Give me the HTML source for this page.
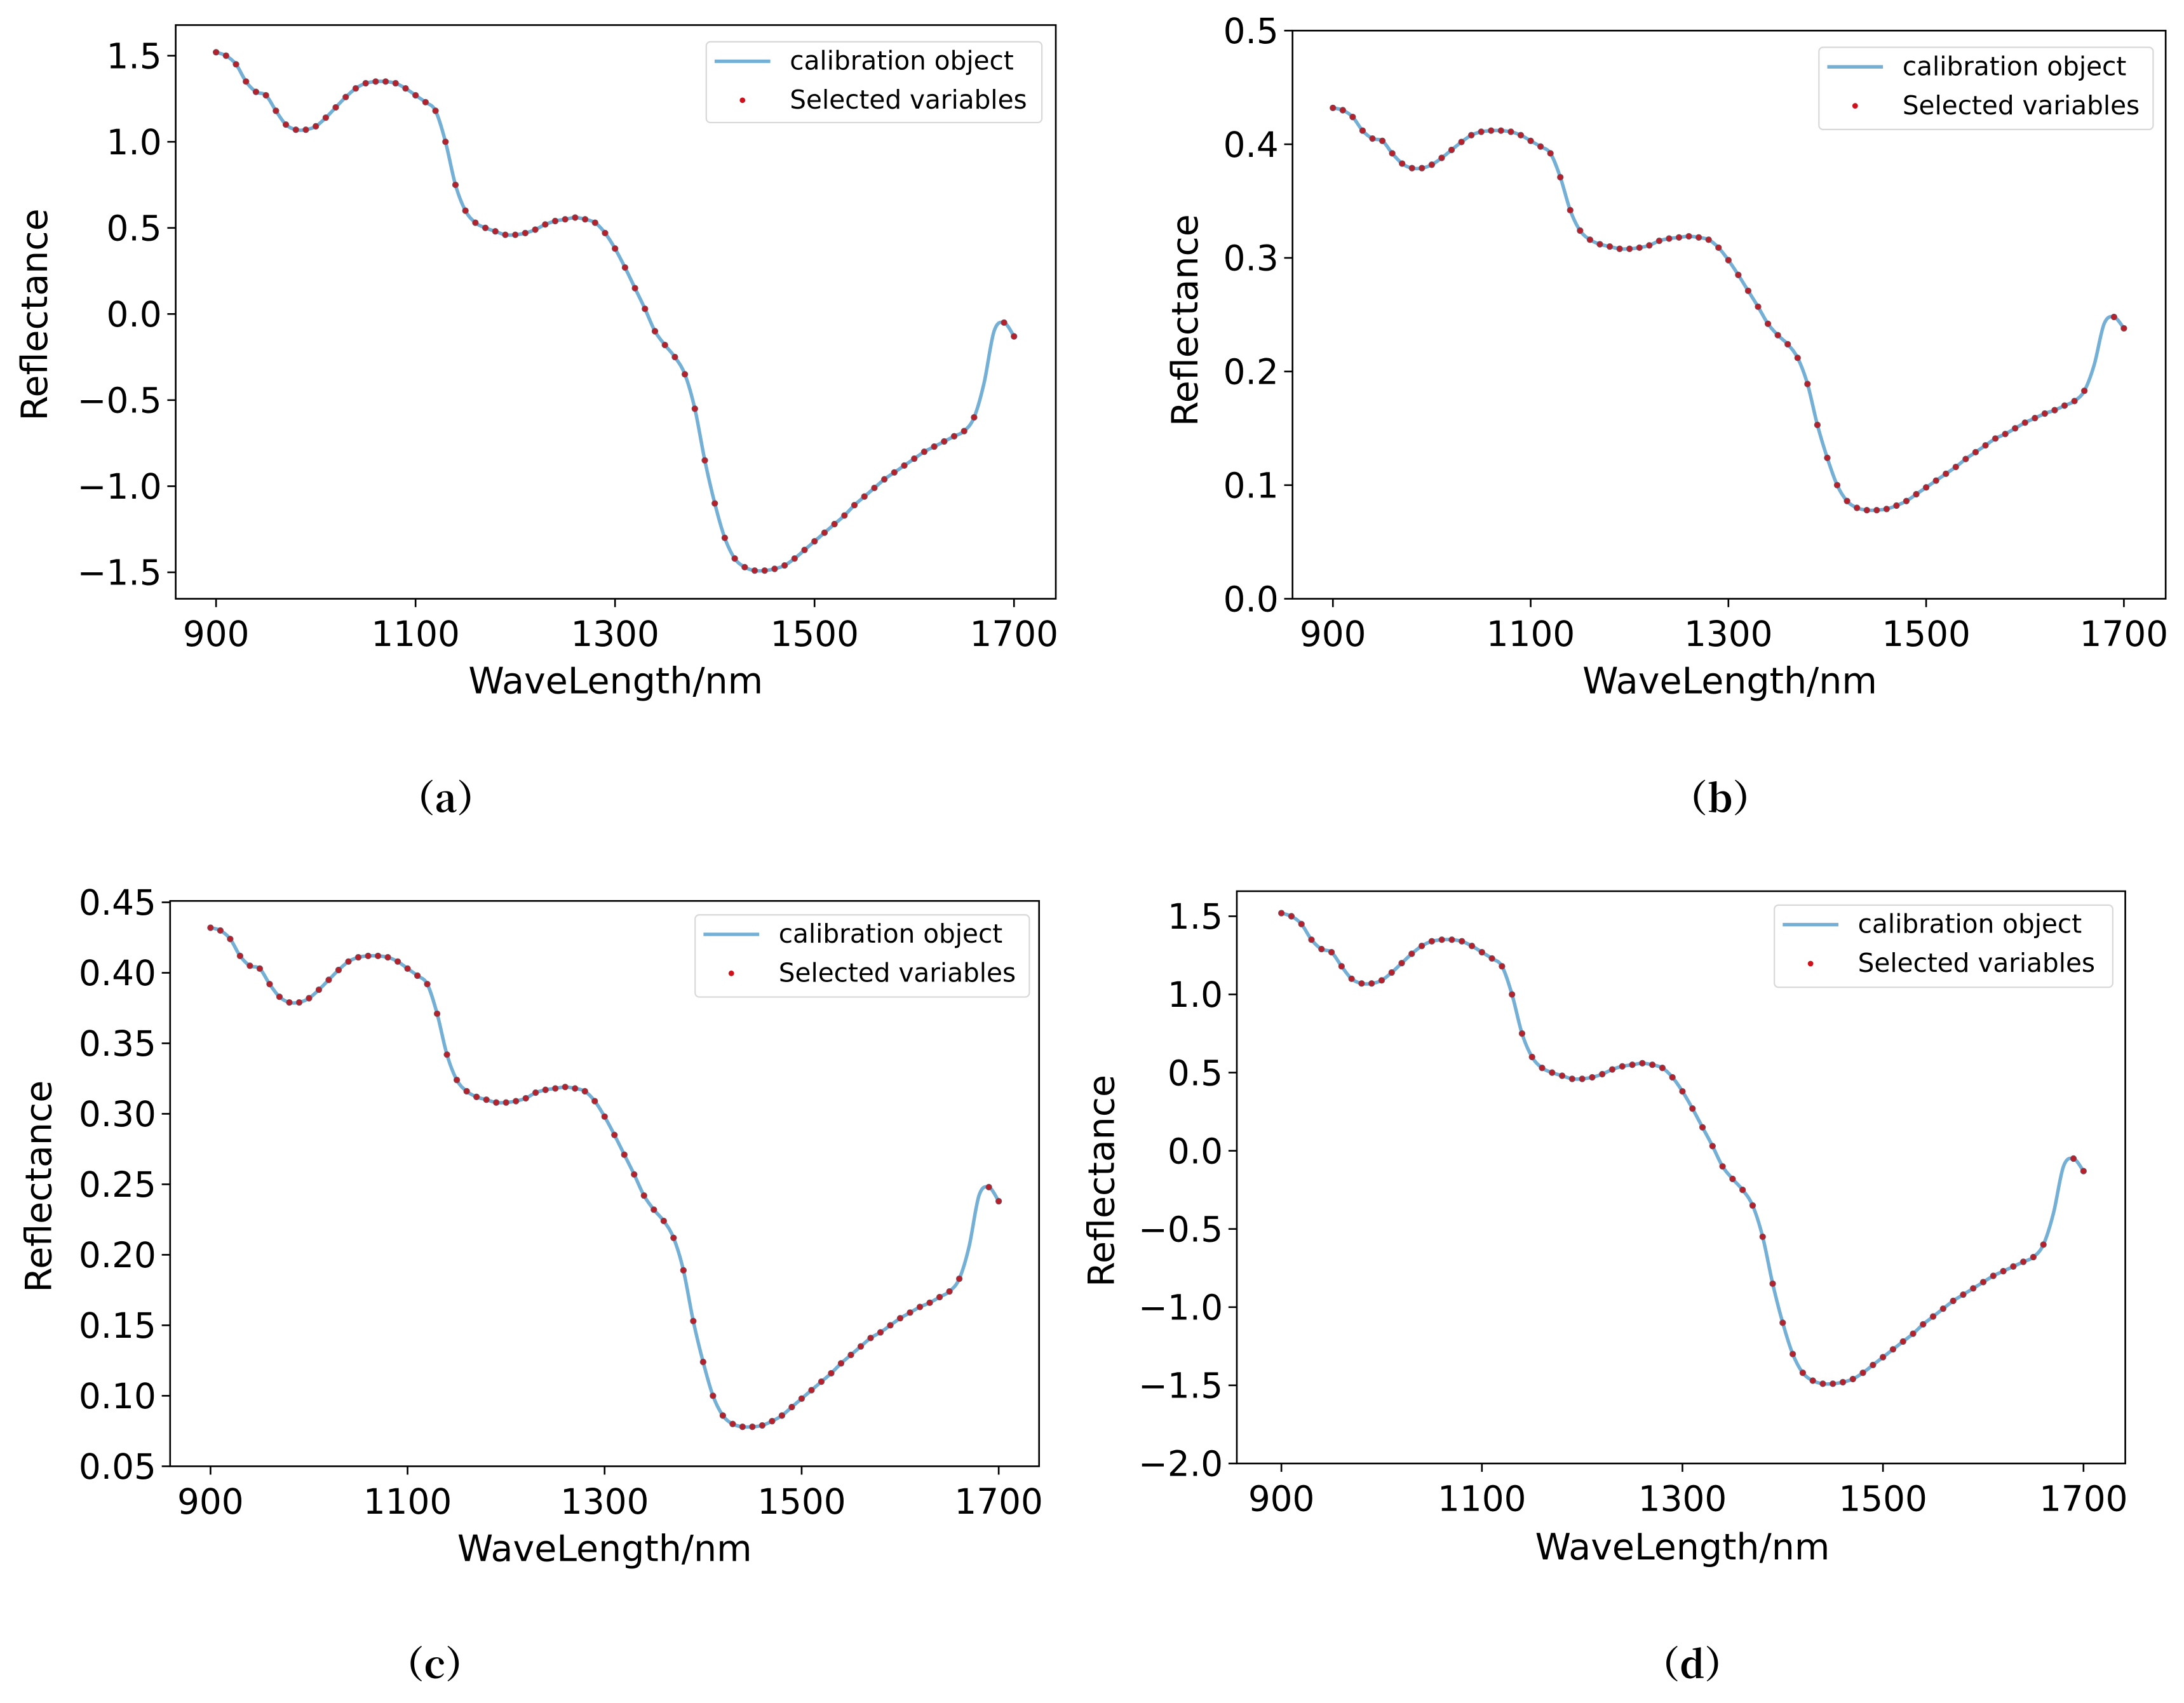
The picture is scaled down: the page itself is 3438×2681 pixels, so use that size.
<!DOCTYPE html>
<html><head><meta charset="utf-8"><style>
html,body{margin:0;padding:0;background:#fff;}
svg{display:block;}
text{font-family:"DejaVu Sans","Liberation Sans",sans-serif;fill:#000;}
</style></head><body>
<svg id="root" width="3438" height="2681" viewBox="0 0 1568 1223" xmlns="http://www.w3.org/2000/svg"></svg>
<script>
const wavelengths=[900,910,920,930,940,950,960,970,980,990,1000,1010,1020,1030,1040,1050,1060,1070,1080,1090,1100,1110,1120,1130,1140,1150,1160,1170,1180,1190,1200,1210,1220,1230,1240,1250,1260,1270,1280,1290,1300,1310,1320,1330,1340,1350,1360,1370,1380,1390,1400,1410,1420,1430,1440,1450,1460,1470,1480,1490,1500,1510,1520,1530,1540,1550,1560,1570,1580,1590,1600,1610,1620,1630,1640,1650,1660,1670,1680,1690,1700];
const seriesA=[1.52,1.50,1.45,1.35,1.29,1.27,1.18,1.10,1.07,1.07,1.09,1.14,1.20,1.26,1.31,1.34,1.35,1.35,1.34,1.31,1.27,1.23,1.18,1.00,0.75,0.60,0.53,0.50,0.48,0.46,0.46,0.47,0.49,0.52,0.54,0.55,0.56,0.55,0.53,0.47,0.38,0.27,0.15,0.03,-0.10,-0.18,-0.25,-0.35,-0.55,-0.85,-1.10,-1.30,-1.42,-1.47,-1.49,-1.49,-1.48,-1.46,-1.42,-1.37,-1.32,-1.27,-1.22,-1.17,-1.11,-1.06,-1.01,-0.96,-0.92,-0.88,-0.84,-0.80,-0.77,-0.74,-0.71,-0.68,-0.60,-0.40,-0.10,-0.05,-0.13];
const seriesB=[0.432,0.430,0.424,0.412,0.405,0.403,0.392,0.383,0.379,0.379,0.382,0.388,0.395,0.402,0.408,0.411,0.412,0.412,0.411,0.408,0.403,0.398,0.392,0.371,0.342,0.324,0.316,0.312,0.310,0.308,0.308,0.309,0.311,0.315,0.317,0.318,0.319,0.318,0.316,0.309,0.298,0.285,0.271,0.257,0.242,0.232,0.224,0.212,0.189,0.153,0.124,0.100,0.086,0.080,0.078,0.078,0.079,0.082,0.086,0.092,0.098,0.104,0.110,0.116,0.123,0.129,0.135,0.141,0.145,0.150,0.155,0.159,0.163,0.166,0.170,0.174,0.183,0.206,0.242,0.248,0.238];
const xTicks=[900,1100,1300,1500,1700];
const yTicksA=[1.5,1.0,0.5,0.0,-0.5,-1.0,-1.5];
const yTicksB=[0.0,0.1,0.2,0.3,0.4,0.5];
const yTicksC=[0.05,0.10,0.15,0.20,0.25,0.30,0.35,0.40,0.45];
const yTicksD=[1.5,1.0,0.5,0.0,-0.5,-1.0,-1.5,-2.0];
const NS='http://www.w3.org/2000/svg';
const root=document.getElementById('root');
function mk(tag,attrs,parent){const e=document.createElementNS(NS,tag);for(const k in attrs)e.setAttribute(k,attrs[k]);(parent||root).appendChild(e);return e;}
function fmt(v,d){const s=Math.abs(v).toFixed(d);return (v<0?'\u2212':'')+s;}
function smooth(pts){
 let d='M'+pts[0][0].toFixed(2)+','+pts[0][1].toFixed(2);
 for(let i=0;i<pts.length-1;i++){
  const p0=pts[Math.max(i-1,0)],p1=pts[i],p2=pts[i+1],p3=pts[Math.min(i+2,pts.length-1)];
  const c1=[p1[0]+(p2[0]-p0[0])/6,p1[1]+(p2[1]-p0[1])/6];
  const c2=[p2[0]-(p3[0]-p1[0])/6,p2[1]-(p3[1]-p1[1])/6];
  d+='C'+c1[0].toFixed(2)+','+c1[1].toFixed(2)+' '+c2[0].toFixed(2)+','+c2[1].toFixed(2)+' '+p2[0].toFixed(2)+','+p2[1].toFixed(2);
 }
 return d;
}
const panels=[
 {id:'a',box:[126,18,758,430],x:[900,155,1700,728],y:[1.5,40,-1.5,411],yt:yTicksA,dec:1,data:seriesA,leg:[507,30,241,58],cap:['（a）',320,583],ylab:[25,226],xlab:[442,498]},
 {id:'b',box:[928,22,1555,430],x:[900,957,1700,1525],y:[0.5,22,0.0,430],yt:yTicksB,dec:1,data:seriesB,leg:[1306,34,240,59],cap:['（b）',1235,583],ylab:[851,230],xlab:[1242,498]},
 {id:'c',box:[122,647,746,1053],x:[900,151,1700,717],y:[0.45,648,0.05,1053],yt:yTicksC,dec:2,data:seriesB,leg:[499,657,240,59],cap:['（c）',312,1205],ylab:[28,852],xlab:[434,1121]},
 {id:'d',box:[888,640,1526,1051],x:[900,920,1700,1496],y:[1.5,658,-2.0,1051],yt:yTicksD,dec:1,data:seriesA,leg:[1274,650,243,59],cap:['（d）',1215,1205],ylab:[791,848],xlab:[1208,1120]}
];
panels.forEach(p=>{
 const g=mk('g',{});
 
 
 const sx=v=>p.x[1]+(v-p.x[0])*(p.x[3]-p.x[1])/(p.x[2]-p.x[0]);
 const sy=v=>p.y[1]+(v-p.y[0])*(p.y[3]-p.y[1])/(p.y[2]-p.y[0]);
 const [x0,y0,x1,y1]=p.box;
 const pts=wavelengths.map((w,i)=>[sx(w),sy(p.data[i])]);
 const line=mk('path',{d:smooth(pts),fill:'none',stroke:'#74b0d6','stroke-width':2.5},g);
 
 
 wavelengths.forEach((w,i)=>{
  if(w>1660&&w<1690)return;
  const c=mk('circle',{cx:sx(w),cy:sy(p.data[i]),r:2.1,fill:'#b5202a',stroke:'#7a5060','stroke-width':0.5},g);
  
  
 });
 const fr=mk('rect',{x:x0,y:y0,width:x1-x0,height:y1-y0,fill:'none',stroke:'#000','stroke-width':1.2},g);
 
 
 xTicks.forEach(t=>{
  const x=sx(t);
  mk('line',{x1:x,x2:x,y1:y1,y2:y1+6,stroke:'#000','stroke-width':1.2},g);
  const tx=mk('text',{x:x,y:y1+34,'font-size':25,'text-anchor':'middle'},g);
  tx.textContent=t;
  
  
 });
 p.yt.forEach(t=>{
  const y=sy(t);
  mk('line',{x1:x0-6,x2:x0,y1:y,y2:y,stroke:'#000','stroke-width':1.2},g);
  const tx=mk('text',{x:x0-10,y:y+9,'font-size':25,'text-anchor':'end'},g);
  tx.textContent=fmt(t,p.dec);
  
  
 });
 const xl=mk('text',{x:p.xlab[0],y:p.xlab[1],'font-size':26,'text-anchor':'middle'},g);
 xl.textContent='WaveLength/nm';
 
 
 const yl=mk('text',{x:p.ylab[0],y:p.ylab[1],'font-size':26,'text-anchor':'middle',transform:'rotate(-90 '+p.ylab[0]+' '+p.ylab[1]+')','dominant-baseline':'central'},g);
 yl.textContent='Reflectance';
 
 
 const [lx,ly,lw,lh]=p.leg;
 const lg=mk('g',{},g);
 
 
 mk('rect',{x:lx,y:ly,width:lw,height:lh,rx:3,fill:'#fff',stroke:'#d8d8d8','stroke-width':1},lg);
 mk('line',{x1:lx+6,x2:lx+46,y1:ly+14,y2:ly+14,stroke:'#74b0d6','stroke-width':2.5},lg);
 mk('circle',{cx:lx+26,cy:ly+42,r:2,fill:'#d0101a'},lg);
 const t1=mk('text',{x:lx+60,y:ly+20,'font-size':18.5},lg);
 t1.textContent='calibration object';
 
 
 const t2=mk('text',{x:lx+60,y:ly+48,'font-size':18.5},lg);
 t2.textContent='Selected variables';
 
 
 const cp=mk('text',{x:p.cap[1],y:p.cap[2],'font-size':27,'text-anchor':'middle','font-weight':'bold',style:'font-family:"Noto Serif CJK SC","Liberation Serif",serif'},g);
 cp.textContent=p.cap[0];
 
 
});
</script>
</body></html>
